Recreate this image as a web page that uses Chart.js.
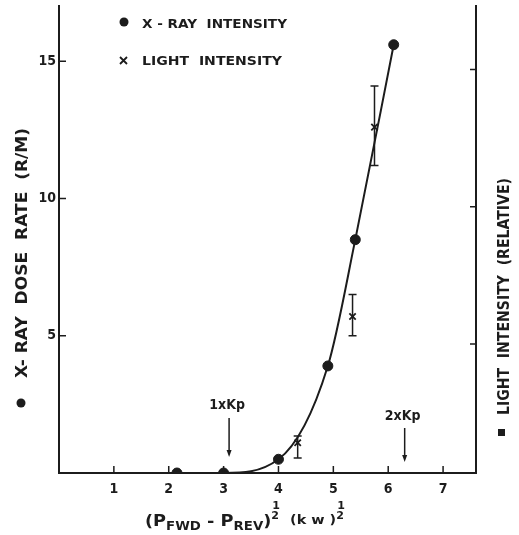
<!DOCTYPE html>
<html>
<head>
<meta charset="utf-8">
<style>
  html, body { margin: 0; padding: 0; background: #fff; }
  #wrap { width: 519px; height: 535px; }
</style>
<script src="https://cdn.jsdelivr.net/npm/chart.js@4.4.1/dist/chart.umd.min.js"></script>
</head>
<body>
<div id="wrap"><canvas id="chart"></canvas></div>
<script>
// values
const xrayX = [2.15, 3.0, 4.0, 4.9, 5.4, 6.1];
const xrayY = [0, 0, 0.5, 3.9, 8.5, 15.6];
const lightX = [4.35, 5.35, 5.75];
const lightY = [1.1, 5.7, 12.6];
const lightLow = [0.55, 5.0, 11.2];
const lightHigh = [1.35, 6.5, 14.1];
const xTicks = [1, 2, 3, 4, 5, 6, 7];
const yTicks = [5, 10, 15];
const rightTicks = [5, 10, 15];
const kpX = [3.1, 6.3];
const kpLabels = ['1xKp', '2xKp'];

const INK = '#1c1c1c';
const FAMILY = '"DejaVu Sans", sans-serif';
const NARROW = '"DejaVu Sans Condensed", "Liberation Sans Narrow", "DejaVu Sans", sans-serif';

const toPoints = (xs, ys) => xs.map((x, i) => ({ x: x, y: ys[i] }));

// draw text squeezed/stretched to a given width
function fitText(ctx, text, x, y, width, font) {
    ctx.font = font;
    const w = ctx.measureText(text).width;
    ctx.save();
    ctx.translate(x, y);
    ctx.scale(width / w, 1);
    ctx.fillText(text, 0, 0);
    ctx.restore();
}

const errorBars = {
    id: 'errorBars',
    afterDatasetsDraw(chart) {
        const ctx = chart.ctx;
        const xs = chart.scales.x, ys = chart.scales.y;
        ctx.save();
        ctx.strokeStyle = INK;
        ctx.lineWidth = 1.5;
        lightX.forEach((v, i) => {
            const px = xs.getPixelForValue(v);
            const top = ys.getPixelForValue(lightHigh[i]);
            const bot = ys.getPixelForValue(lightLow[i]);
            ctx.beginPath();
            ctx.moveTo(px, top); ctx.lineTo(px, bot);
            ctx.moveTo(px - 4, top); ctx.lineTo(px + 4, top);
            ctx.moveTo(px - 4, bot); ctx.lineTo(px + 4, bot);
            ctx.stroke();
        });
        ctx.restore();
    }
};

const decorations = {
    id: 'decorations',
    afterDraw(chart) {
        const ctx = chart.ctx;
        const xs = chart.scales.x, ys = chart.scales.y, y2 = chart.scales.y2;
        const area = chart.chartArea;
        ctx.save();
        ctx.strokeStyle = INK;
        ctx.fillStyle = INK;
        ctx.lineWidth = 1.5;

        // inward tick marks
        ctx.beginPath();
        xTicks.forEach(v => {
            const px = xs.getPixelForValue(v);
            ctx.moveTo(px, area.bottom); ctx.lineTo(px, area.bottom - 7);
        });
        yTicks.forEach(v => {
            const py = ys.getPixelForValue(v);
            ctx.moveTo(area.left, py); ctx.lineTo(area.left + 7, py);
        });
        rightTicks.forEach(v => {
            const py = y2.getPixelForValue(v);
            ctx.moveTo(area.right, py); ctx.lineTo(area.right - 6, py);
        });
        ctx.stroke();

        // legend
        ctx.beginPath();
        ctx.arc(124, 22, 4.5, 0, Math.PI * 2);
        ctx.fill();
        ctx.lineWidth = 1.8;
        ctx.beginPath();
        ctx.moveTo(120, 57); ctx.lineTo(127, 64);
        ctx.moveTo(127, 57); ctx.lineTo(120, 64);
        ctx.stroke();
        ctx.textBaseline = 'alphabetic';
        fitText(ctx, 'X - RAY  INTENSITY', 142, 28, 145, 'bold 13px ' + FAMILY);
        fitText(ctx, 'LIGHT  INTENSITY', 142, 65, 140, 'bold 13px ' + FAMILY);

        // Kp markers
        const kpText = [409, 420];
        const kpTop = [418, 428];
        const kpTip = [457, 462];
        kpX.forEach((v, i) => {
            const px = xs.getPixelForValue(v);
            ctx.textAlign = 'center';
            ctx.font = 'bold 14px ' + NARROW;
            ctx.fillText(kpLabels[i], px - 2, kpText[i]);
            ctx.lineWidth = 1.5;
            ctx.beginPath();
            ctx.moveTo(px, kpTop[i]); ctx.lineTo(px, kpTip[i] - 5);
            ctx.stroke();
            ctx.beginPath();
            ctx.moveTo(px - 2.5, kpTip[i] - 7); ctx.lineTo(px + 2.5, kpTip[i] - 7); ctx.lineTo(px, kpTip[i]);
            ctx.closePath();
            ctx.fill();
        });
        ctx.textAlign = 'left';

        // left axis title (rotated)
        ctx.save();
        ctx.translate(27, 378);
        ctx.rotate(-Math.PI / 2);
        fitText(ctx, 'X- RAY  DOSE  RATE  (R/M)', 0, 0, 250, 'bold 16px ' + FAMILY);
        ctx.restore();
        ctx.beginPath();
        ctx.arc(21, 403, 4.5, 0, Math.PI * 2);
        ctx.fill();

        // right axis title (rotated)
        ctx.save();
        ctx.translate(509, 415);
        ctx.rotate(-Math.PI / 2);
        fitText(ctx, 'LIGHT  INTENSITY  (RELATIVE)', 0, 0, 237, 'bold 15px ' + FAMILY);
        ctx.restore();
        ctx.fillRect(498, 429, 7, 7);

        // x axis title with subscripts and 1/2 exponents
        const runs = [
            { t: '(P', size: 16, dy: 0 },
            { t: 'FWD', size: 12, dy: 4 },
            { t: ' - P', size: 16, dy: 0 },
            { t: 'REV', size: 12, dy: 4 },
            { t: ')', size: 16, dy: 0 },
            { frac: true, size: 10 },
            { t: '  (k w )', size: 13, dy: -2 },
            { frac: true, size: 10 }
        ];
        let total = 0;
        runs.forEach(r => {
            ctx.font = 'bold ' + r.size + 'px ' + FAMILY;
            r.w = r.frac ? ctx.measureText('2').width + 1 : ctx.measureText(r.t).width;
            total += r.w;
        });
        ctx.save();
        ctx.translate(145, 526);
        ctx.scale(200 / total, 1);
        let cx = 0;
        runs.forEach(r => {
            ctx.font = 'bold ' + r.size + 'px ' + FAMILY;
            if (r.frac) {
                ctx.fillText('1', cx + 1, -17);
                ctx.fillText('2', cx, -7);
            } else {
                ctx.fillText(r.t, cx, r.dy);
            }
            cx += r.w;
        });
        ctx.restore();

        ctx.restore();
    }
};

const tickFont = { family: NARROW, size: 14, weight: 'bold' };
const noPadY = axis => { axis.paddingTop = 0; axis.paddingBottom = 0; };

new Chart(document.getElementById('chart'), {
    type: 'scatter',
    data: {
        datasets: [
            {
                label: 'curve',
                data: toPoints(xrayX, xrayY),
                showLine: true,
                cubicInterpolationMode: 'monotone',
                borderColor: INK,
                borderWidth: 2,
                pointRadius: 0,
                fill: false
            },
            {
                label: 'X-RAY INTENSITY',
                data: toPoints(xrayX, xrayY),
                pointStyle: 'circle',
                pointRadius: 5,
                backgroundColor: INK,
                borderColor: INK
            },
            {
                label: 'LIGHT INTENSITY',
                data: toPoints(lightX, lightY),
                pointStyle: 'crossRot',
                pointRadius: 4.5,
                borderWidth: 1.8,
                borderColor: INK
            }
        ]
    },
    options: {
        responsive: true,
        maintainAspectRatio: false,
        animation: false,
        layout: { padding: { top: 5, left: 0, right: 0, bottom: 0 } },
        plugins: {
            legend: { display: false },
            tooltip: { enabled: false }
        },
        scales: {
            x: {
                type: 'linear',
                min: 0,
                max: 7.6,
                afterBuildTicks: axis => { axis.ticks = xTicks.map(v => ({ value: v })); },
                afterFit: axis => { axis.height = 62; axis.paddingLeft = 0; axis.paddingRight = 0; },
                ticks: { color: INK, font: tickFont, padding: 8, maxRotation: 0 },
                grid: { display: true, drawOnChartArea: false, drawTicks: false },
                border: { color: INK, width: 2 }
            },
            y: {
                position: 'left',
                min: 0,
                max: 17,
                afterBuildTicks: axis => { axis.ticks = yTicks.map(v => ({ value: v })); },
                afterFit: axis => { axis.width = 59; noPadY(axis); },
                ticks: { color: INK, font: tickFont, padding: 3 },
                grid: { display: true, drawOnChartArea: false, drawTicks: false },
                border: { color: INK, width: 2 }
            },
            y2: {
                position: 'right',
                min: 0.3,
                max: 17.3,
                afterBuildTicks: axis => { axis.ticks = rightTicks.map(v => ({ value: v })); },
                afterFit: axis => { axis.width = 43; noPadY(axis); },
                ticks: { display: false },
                grid: { display: true, drawOnChartArea: false, drawTicks: false },
                border: { color: INK, width: 2 }
            }
        }
    },
    plugins: [errorBars, decorations]
});
</script>
</body>
</html>
